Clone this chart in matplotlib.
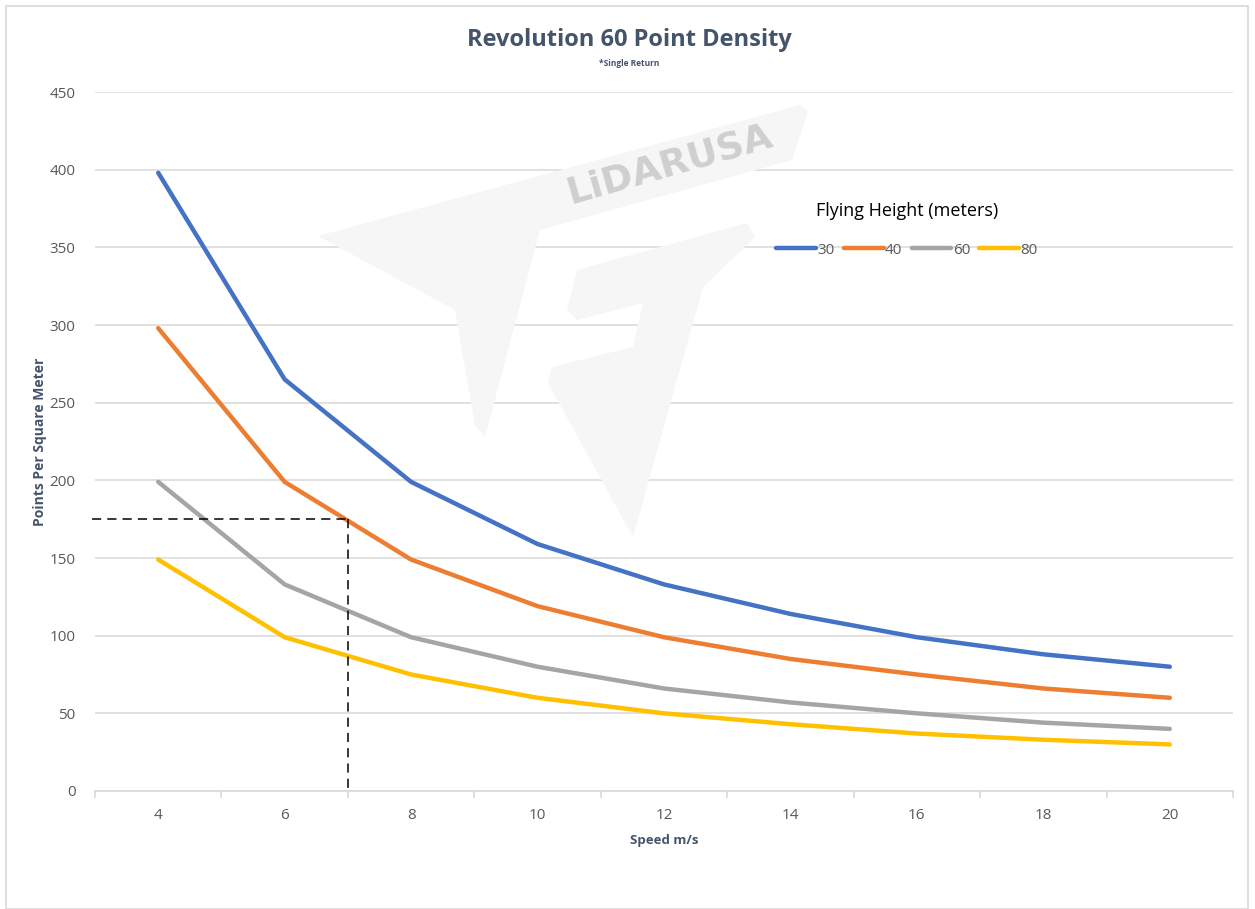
import matplotlib
matplotlib.use("Agg")
from matplotlib import pyplot as plt
from matplotlib.patches import Polygon, Rectangle
import numpy as np

# Revolution 60 point density vs speed, one line per flying height
speeds = [4, 6, 8, 10, 12, 14, 16, 18, 20]
heights = ["30", "40", "60", "80"]
density_30 = [398, 265, 199, 159, 133, 114, 99, 88, 80]
density_40 = [298, 199, 149, 119, 99, 85, 75, 66, 60]
density_60 = [199, 133, 99, 80, 66, 57, 50, 44, 40]
density_80 = [149, 99, 75, 60, 50, 43, 37, 33, 30]
colors = ["#4472C4", "#ED7D31", "#A5A5A5", "#FFC000"]

# reference marker: 7 m/s -> 175 pts/m2
marker_speed = 7
marker_density = 175

TEXT = "#44546A"
TICK = "#595959"
GRID = "#D9D9D9"

plt.rcParams["font.family"] = ["Open Sans", "DejaVu Sans"]

W, H = 1255, 909
fig = plt.figure(figsize=(W / 100, H / 100), dpi=100)

# chart border
fig.patches.append(Rectangle((6 / W, 0), 1242 / W, 1 - 6 / H, transform=fig.transFigure,
                             fill=False, edgecolor=GRID, linewidth=1.2))

ax = fig.add_axes([95 / W, 1 - 791 / H, (1233 - 95) / W, (791 - 92) / H])

# watermark (pixel coords of the logo, drawn faint behind everything)
def px(pts):
    return [(x / W, 1 - y / H) for x, y in pts]

logo_a = [(318, 236), (800, 105), (808, 112), (792, 160), (540, 230), (485, 437),
          (475, 425), (455, 310)]
logo_b = [(577, 270), (747, 223), (755, 237), (703, 287), (633, 537), (548, 383),
          (552, 367), (633, 347), (643, 303), (577, 320), (567, 310)]
for shape in (logo_a, logo_b):
    fig.patches.append(Polygon(px(shape), closed=True, transform=fig.transFigure,
                               facecolor="#F6F6F6", edgecolor="none", zorder=0))
fig.text(670 / W, 1 - 165 / H, "LiDARUSA", rotation=16, ha="center", va="center",
         fontsize=27, fontweight="bold", color="#CFCFCF", family="DejaVu Sans", zorder=0)
ax.set_facecolor("none")

x = np.arange(len(speeds))
for dens, lab, col in zip([density_30, density_40, density_60, density_80], heights, colors):
    ax.plot(x, dens, color=col, linewidth=3.2, label=lab, solid_capstyle="round", zorder=3)

# dashed guide lines
xm = speeds.index(6) + (marker_speed - 6) / 2
ax.plot([-0.52, xm], [marker_density, marker_density], color="black", linestyle=(0, (6, 4)),
        linewidth=1.1, zorder=4, clip_on=False)
ax.plot([xm, xm], [marker_density, 0], color="black", linestyle=(0, (6, 4)),
        linewidth=1.1, zorder=4)

ax.set_xlim(-0.5, len(speeds) - 0.5)
ax.set_ylim(0, 450)
ax.set_yticks(range(0, 451, 50))
ax.set_xticks(x)
ax.set_xticklabels([str(s) for s in speeds])
ax.set_xticks(np.arange(-0.5, len(speeds), 1), minor=True)

ax.grid(axis="y", color=GRID, linewidth=1.1, zorder=1)
ax.set_axisbelow(True)
for side in ["top", "right", "left"]:
    ax.spines[side].set_visible(False)
ax.spines["bottom"].set_color(GRID)
ax.spines["bottom"].set_linewidth(1.2)
ax.tick_params(axis="y", length=0, pad=14, labelsize=11, labelcolor=TICK)
ax.tick_params(axis="x", which="major", length=0, pad=12, labelsize=11, labelcolor=TICK)
ax.tick_params(axis="x", which="minor", length=5, color=GRID, width=1.2)

ax.set_xlabel("Speed m/s", fontsize=9.5, fontweight="bold", color=TEXT, labelpad=8)
ax.set_ylabel("Points Per Square Meter", fontsize=10, fontweight="bold", color=TEXT, labelpad=2)

fig.text(629 / W, 1 - 40 / H, "Revolution 60 Point Density", ha="center", va="center",
         fontsize=17, fontweight="bold", color=TEXT)
fig.text(629 / W, 1 - 63 / H, "*Single Return", ha="center", va="center",
         fontsize=6, fontweight="bold", color=TEXT)

leg = ax.legend(ncol=4, frameon=False, loc="center", bbox_to_anchor=(907 / W, 1 - 230 / H),
                bbox_transform=fig.transFigure, title="Flying Height (meters)",
                fontsize=11, title_fontsize=13, handlelength=2.6, handletextpad=0.1,
                columnspacing=0.6)
for t in leg.get_texts():
    t.set_color(TICK)
leg.get_title().set_color("black")
leg._legend_box.sep = 16

fig.savefig("out.png", dpi=100, facecolor="white")
